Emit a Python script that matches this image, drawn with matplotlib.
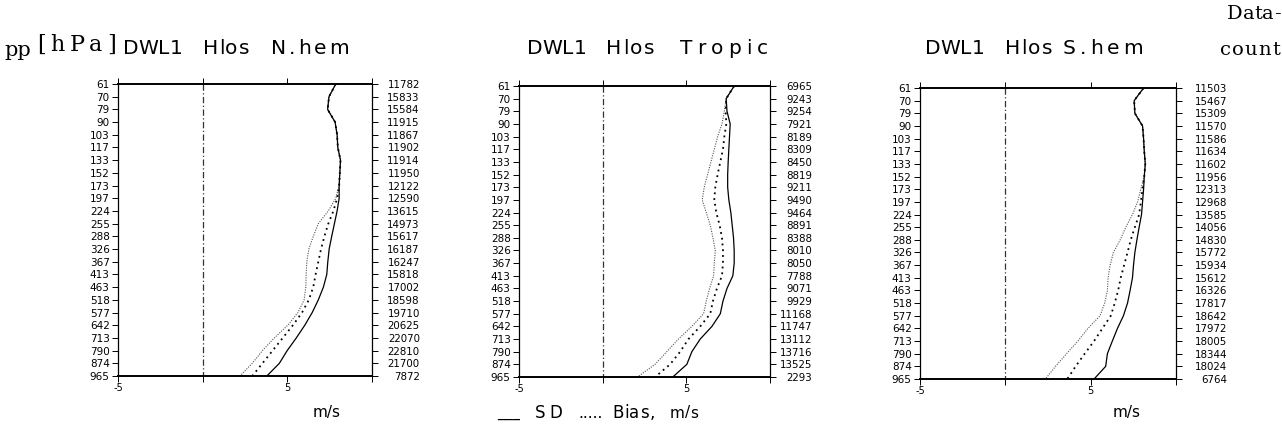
import matplotlib
matplotlib.use("Agg")
import matplotlib.pyplot as plt
import numpy as np

# ---------------- data ----------------
levels = [61, 70, 79, 90, 103, 117, 133, 152, 173, 197, 224, 255, 288, 326,
          367, 413, 463, 518, 577, 642, 713, 790, 874, 965]

regions = ["N.hem", "Tropic", "S.hem"]

count_nhem = [11782, 15833, 15584, 11915, 11867, 11902, 11914, 11950, 12122, 12590,
              13615, 14973, 15617, 16187, 16247, 15818, 17002, 18598, 19710, 20625,
              22070, 22810, 21700, 7872]
count_trop = [6965, 9243, 9254, 7921, 8189, 8309, 8450, 8819, 9211, 9490, 9464, 8891,
              8388, 8010, 8050, 7788, 9071, 9929, 11168, 11747, 13112, 13716, 13525, 2293]
count_shem = [11503, 15467, 15309, 11570, 11586, 11634, 11602, 11956, 12313, 12968,
              13585, 14056, 14830, 15772, 15934, 15612, 16326, 17817, 18642, 17972,
              18005, 18344, 18024, 6764]

# SD curves (m/s): solid, dotted, fine-dotted
sd_solid_nhem = [7.86, 7.46, 7.38, 7.82, 7.94, 7.98, 8.14, 8.10, 8.06, 8.06, 7.94, 7.78,
                 7.62, 7.47, 7.39, 7.33, 7.13, 6.83, 6.47, 6.03, 5.53, 4.99, 4.53, 3.79]
sd_dot_nhem = [7.86, 7.46, 7.38, 7.82, 7.94, 7.98, 8.14, 8.10, 8.06, 7.94, 7.72, 7.42,
               7.19, 6.99, 6.83, 6.67, 6.53, 6.27, 5.87, 5.33, 4.73, 4.13, 3.53, 2.93]
sd_fine_nhem = [7.86, 7.46, 7.38, 7.82, 7.94, 7.98, 8.14, 8.10, 8.06, 7.86, 7.42, 6.83,
                6.53, 6.27, 6.15, 6.11, 6.09, 5.99, 5.63, 5.03, 4.23, 3.53, 2.93, 2.20]

sd_solid_trop = [7.86, 7.38, 7.43, 7.62, 7.58, 7.54, 7.50, 7.47, 7.47, 7.54, 7.66, 7.74,
                 7.82, 7.86, 7.86, 7.78, 7.43, 7.19, 7.03, 6.53, 5.83, 5.33, 5.03, 4.19]
sd_dot_trop = [7.86, 7.38, 7.35, 7.39, 7.27, 7.19, 7.03, 6.87, 6.73, 6.67, 6.79, 6.99,
               7.13, 7.19, 7.19, 7.13, 6.83, 6.59, 6.43, 5.83, 5.13, 4.63, 4.03, 3.13]
sd_fine_trop = [7.86, 7.38, 7.27, 7.13, 6.87, 6.67, 6.47, 6.27, 6.07, 5.95, 6.19, 6.43,
                6.59, 6.73, 6.67, 6.63, 6.39, 6.19, 6.03, 5.33, 4.53, 3.83, 3.13, 2.08]

sd_solid_shem = [8.10, 7.55, 7.59, 8.04, 8.10, 8.14, 8.20, 8.14, 8.10, 8.04, 7.98, 7.84,
                 7.71, 7.59, 7.51, 7.45, 7.31, 7.16, 6.92, 6.57, 6.27, 5.98, 5.88, 5.20]
sd_dot_shem = [8.10, 7.55, 7.59, 8.04, 8.10, 8.14, 8.20, 8.14, 8.04, 7.94, 7.84, 7.59,
               7.35, 7.16, 6.96, 6.76, 6.61, 6.41, 6.18, 5.69, 5.20, 4.65, 4.12, 3.63]
sd_fine_shem = [8.10, 7.55, 7.59, 8.04, 8.10, 8.14, 8.20, 8.14, 7.94, 7.75, 7.45, 7.06,
                6.73, 6.33, 6.14, 6.02, 5.98, 5.82, 5.55, 4.84, 4.25, 3.59, 2.94, 2.35]

# Bias (m/s), close to zero at all levels
bias_nhem = [0.0] * 24
bias_trop = [0.0] * 24
bias_shem = [0.0] * 24

x_ticks = [-5, 0, 5, 10]
x_ticklabels = ["-5", "", "5", ""]

# ---------------- figure ----------------
W, H = 1282, 428
fig = plt.figure(figsize=(W / 100, H / 100), dpi=100)
fig.patch.set_facecolor("white")

SANS = "DejaVu Sans"
SERIF = "DejaVu Serif"
renderer = fig.canvas.get_renderer()


def px_axes(left, right, top, bottom):
    return fig.add_axes([left / W, 1 - bottom / H, (right - left) / W, (bottom - top) / H])


def spaced_word(x0, x1, y, word, size, family):
    """Draw a word letter-spaced so that it spans pixels x0..x1 (figure coords)."""
    widths = []
    for ch in word:
        t = fig.text(0, 0, ch, fontsize=size, family=family)
        bb = t.get_window_extent(renderer=renderer)
        widths.append(bb.width)
        t.remove()
    gap = (x1 - x0 - sum(widths)) / max(len(word) - 1, 1)
    gap = max(gap, 0)
    x = x0
    for ch, w in zip(word, widths):
        fig.text(x / W, 1 - y / H, ch, fontsize=size, family=family,
                 va="center", ha="left")
        x += w + gap


panels = [
    dict(box=(118, 372, 84, 376), name="N.hem", counts=count_nhem, pad=30.5,
         solid=sd_solid_nhem, dot=sd_dot_nhem, fine=sd_fine_nhem, bias=bias_nhem,
         words=[(123, 171), (203, 249), (271, 349)]),
    dict(box=(519, 770, 86, 377), name="Tropic", counts=count_trop, pad=26.5,
         solid=sd_solid_trop, dot=sd_dot_trop, fine=sd_fine_trop, bias=bias_trop,
         words=[(527, 575), (606, 654), (680, 768)]),
    dict(box=(920, 1176, 88, 379), name="S.hem", counts=count_shem, pad=32.7,
         solid=sd_solid_shem, dot=sd_dot_shem, fine=sd_fine_shem, bias=bias_shem,
         words=[(925, 974), (1005, 1052), (1063, 1143)]),
]

idx = np.arange(len(levels))

for p in panels:
    ax = px_axes(*p["box"])
    ax.set_xlim(-5, 10)
    ax.set_ylim(len(levels) - 1, 0)
    ax.plot(p["fine"], idx, color="#555555", lw=0.8, linestyle=(0, (1, 1.2)))
    ax.plot(p["dot"], idx, color="black", lw=1.3, linestyle=(0, (1, 2.2)))
    ax.plot(p["solid"], idx, color="black", lw=0.9, linestyle="-")
    ax.plot(p["bias"], idx, color="#333333", lw=0.9, linestyle=(0, (5, 2, 1, 2)))

    for s in ax.spines.values():
        s.set_linewidth(0.9)
    ax.spines["top"].set_linewidth(1.4)
    ax.spines["bottom"].set_linewidth(1.4)

    ax.set_xticks(x_ticks)
    ax.set_xticklabels(x_ticklabels, fontsize=7, family=SANS)
    ax.tick_params(axis="x", direction="out", length=4, width=0.7, pad=1,
                   top=True, bottom=True)
    ax.set_yticks(idx)
    ax.set_yticklabels([str(v) for v in levels], fontsize=7.5, family=SANS)
    ax.tick_params(axis="y", direction="out", length=4, width=0.7, pad=2)

    ax2 = ax.twinx()
    ax2.set_ylim(len(levels) - 1, 0)
    ax2.set_yticks(idx)
    ax2.set_yticklabels([str(c) for c in p["counts"]], fontsize=7.4, family=SANS,
                        ha="right")
    ax2.tick_params(axis="y", direction="out", length=4, width=0.7, pad=p["pad"])
    for s in ax2.spines.values():
        s.set_visible(False)

    for word, (x0, x1) in zip(["DWL1", "Hlos", p["name"]], p["words"]):
        spaced_word(x0, x1, 49, word, 14.5, SANS)

fig.text(4 / W, 1 - 51 / H, "pp", fontsize=15, family=SERIF, va="center", ha="left")
spaced_word(37, 116, 45, "[hPa]", 16, SERIF)
spaced_word(1227, 1280, 14, "Data-", 14, SERIF)
spaced_word(1220, 1280, 50, "count", 14, SERIF)

fig.text(327 / W, 1 - 413 / H, "m/s", fontsize=11, family=SANS, va="center", ha="center")
fig.text(1127 / W, 1 - 413 / H, "m/s", fontsize=11, family=SANS, va="center", ha="center")

# bottom legend text
fig.text(497 / W, 1 - 413 / H, "___", fontsize=11, family=SANS, va="center", ha="left")
spaced_word(535, 562, 413, "SD", 12, SANS)
fig.text(578 / W, 1 - 413 / H, ".....", fontsize=11, family=SANS, va="center", ha="left")
spaced_word(612, 655, 413, "Bias,", 12, SANS)
spaced_word(670, 698, 413, "m/s", 11, SANS)

fig.savefig("out.png", dpi=100, facecolor="white")
